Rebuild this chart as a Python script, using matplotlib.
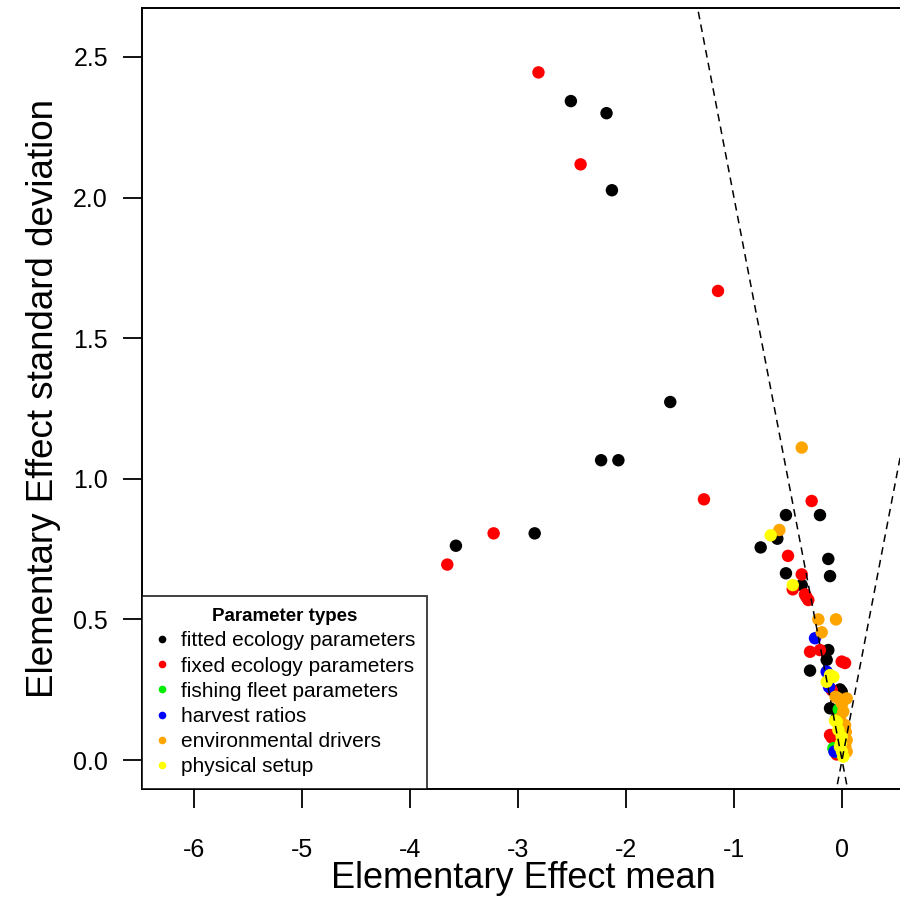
import matplotlib
matplotlib.use("Agg")
import matplotlib.pyplot as plt
import numpy as np
from matplotlib.lines import Line2D

plt.rcParams['font.family'] = ['Liberation Sans', 'DejaVu Sans']

# values (mean, sd) per parameter type
fitted_mean = [-2.51, -2.18, -2.13, -1.59, -2.23, -2.07, -2.845, -3.574,
               -0.519, -0.204, -0.599, -0.753, -0.127, -0.519, -0.111, -0.373,
               -0.127, -0.142, -0.296, -0.003, -0.019, -0.111, -0.05, -0.02]
fitted_sd = [2.343, 2.30, 2.026, 1.273, 1.066, 1.066, 0.806, 0.762,
             0.871, 0.871, 0.787, 0.756, 0.715, 0.664, 0.654, 0.622,
             0.391, 0.356, 0.318, 0.243, 0.251, 0.184, 0.15, 0.05]

fixed_mean = [-2.81, -2.42, -1.148, -1.278, -3.225, -3.654,
              -0.281, -0.50, -0.373, -0.456, -0.343, -0.312, -0.33,
              -0.296, -0.204, -0.003, 0.028, -0.095, -0.111, -0.095, -0.05]
fixed_sd = [2.445, 2.118, 1.668, 0.927, 0.806, 0.695,
            0.921, 0.726, 0.660, 0.607, 0.589, 0.569, 0.58,
            0.385, 0.391, 0.350, 0.345, 0.249, 0.089, 0.08, 0.02]

fleet_mean = [-0.03, -0.01, -0.08, -0.06]
fleet_sd = [0.18, 0.165, 0.042, 0.03]

harvest_mean = [-0.25, -0.142, -0.12, -0.07]
harvest_sd = [0.433, 0.314, 0.26, 0.03]

env_mean = [-0.373, -0.580, -0.219, -0.056, -0.188, -0.034, 0.043, 0.012,
            -0.019, 0.028, 0.043, 0.043, 0.035, 0.03, 0.0, -0.06]
env_sd = [1.111, 0.818, 0.50, 0.50, 0.454, 0.219, 0.219, 0.172,
          0.148, 0.124, 0.071, 0.030, 0.10, 0.05, 0.2, 0.225]

phys_mean = [-0.660, -0.456, -0.111, -0.142, -0.08, -0.049, -0.034, -0.003,
             -0.019, 0.012, -0.065, -0.01, 0.0]
phys_sd = [0.799, 0.622, 0.302, 0.278, 0.296, 0.136, 0.107, 0.083,
           0.047, 0.012, 0.14, 0.06, 0.03]

labels = ['fitted ecology parameters', 'fixed ecology parameters',
          'fishing fleet parameters', 'harvest ratios',
          'environmental drivers', 'physical setup']
colors = ['black', 'red', '#00ee00', 'blue', 'orange', 'yellow']

groups = [(fitted_mean, fitted_sd), (fixed_mean, fixed_sd),
          (fleet_mean, fleet_sd), (harvest_mean, harvest_sd),
          (env_mean, env_sd), (phys_mean, phys_sd)]

# slope of the dashed reference lines sd = +/- 2*mean
line_slope = 2.0

fig = plt.figure(figsize=(9, 8.98), dpi=100)
ax = fig.add_axes([142/900, 109/898, (905-142)/900, (789-8)/898])

xlo, xhi = -6.48, 0.583
ylo, yhi = -0.103, 2.674

for (m, s), c in zip(groups, colors):
    ax.scatter(m, s, s=80, color=c, edgecolors='none', zorder=3)

xx = np.array([xlo, xhi])
ax.plot(xx, -line_slope * xx, ls=(0, (5, 3.5)), color='black', lw=1.1, zorder=4)
ax.plot(xx, line_slope * xx, ls=(0, (5, 3.5)), color='black', lw=1.1, zorder=4)

ax.set_xlim(xlo, xhi)
ax.set_ylim(ylo, yhi)
ax.set_xticks(range(-6, 1))
ax.set_xticklabels([str(t) for t in range(-6, 1)])
ax.set_yticks([0.0, 0.5, 1.0, 1.5, 2.0, 2.5])
ax.set_yticklabels(['0.0', '0.5', '1.0', '1.5', '2.0', '2.5'])

for sp in ['left', 'top', 'bottom']:
    ax.spines[sp].set_linewidth(1.4)
ax.spines['right'].set_visible(False)
ax.tick_params(direction='out', length=13.5, width=1.3, labelsize=18)
ax.tick_params(axis='x', pad=22)
ax.tick_params(axis='y', pad=11)

ax.set_xlabel('Elementary Effect mean', fontsize=26, labelpad=-1)
ax.set_ylabel('Elementary Effect standard deviation', fontsize=26.5, labelpad=9)

handles = [Line2D([], [], ls='none', marker='o', markersize=5.5, color=c,
                  markeredgewidth=0) for c in colors]
leg = ax.legend(handles, labels, title='Parameter types', loc='lower left',
                bbox_to_anchor=(0, 0), borderaxespad=0, fontsize=15,
                title_fontproperties={'weight': 'bold', 'size': 13.5},
                frameon=True, fancybox=False, edgecolor='black',
                handlelength=0.7, handletextpad=0.55, borderpad=0.6,
                labelspacing=0.3)
leg.get_frame().set_linewidth(1.3)
leg.set_zorder(5)

fig.savefig('out.png', dpi=100)
